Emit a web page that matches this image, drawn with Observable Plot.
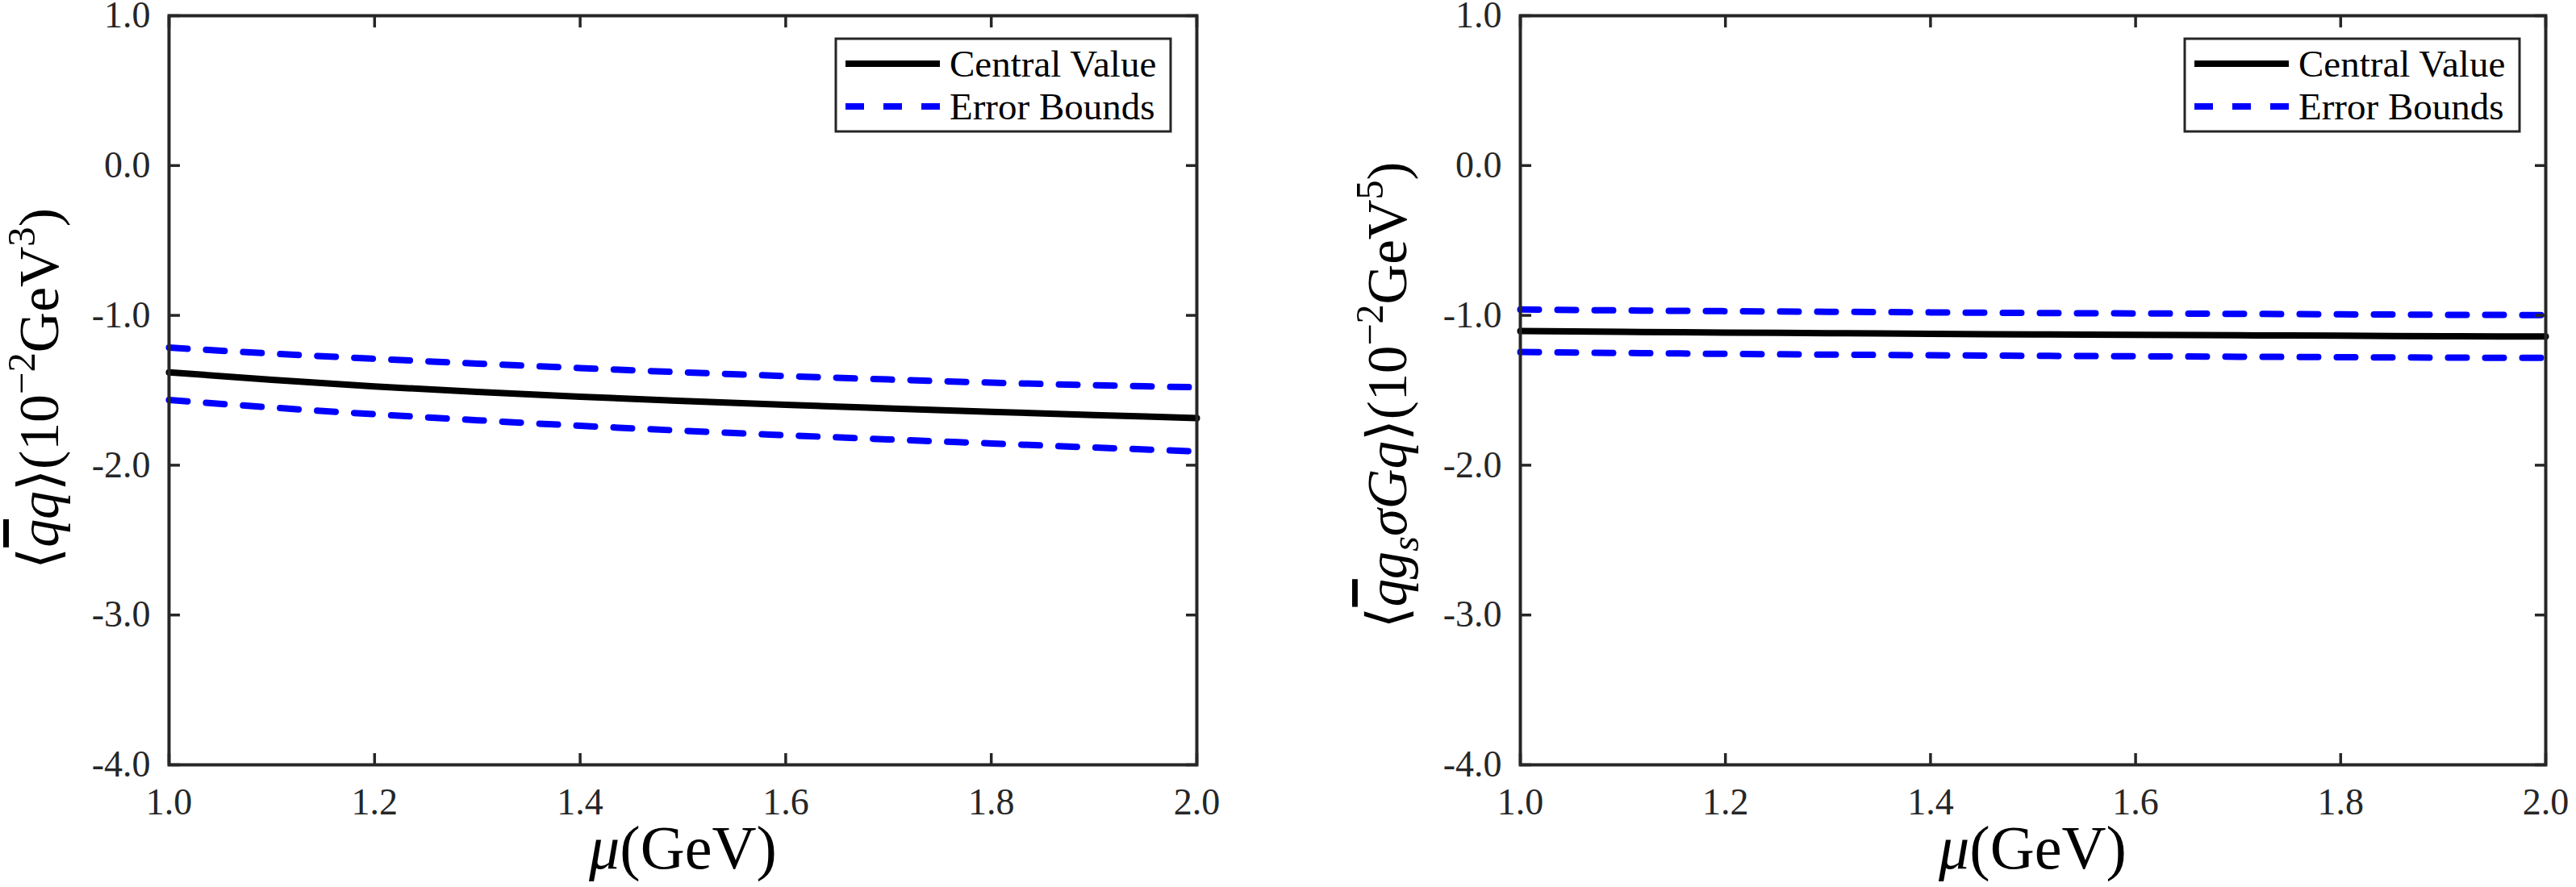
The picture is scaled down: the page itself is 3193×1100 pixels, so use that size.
<!DOCTYPE html>
<html><head><meta charset="utf-8">
<script src="https://cdn.jsdelivr.net/npm/d3@7"></script>
<script src="https://cdn.jsdelivr.net/npm/@observablehq/plot@0.6"></script>
<style>
html,body{margin:0;padding:0;background:#fff;}
#wrap{display:flex;width:3193px;height:1100px;}
#wrap svg{display:block;}
#wrap svg text, #wrap svg tspan{font-family:"Liberation Serif","DejaVu Serif",serif;}
</style></head><body><div id="wrap"></div>
<script>
// ---- data ----
const mu = [1.0, 1.1, 1.2, 1.3, 1.4, 1.5, 1.6, 1.7, 1.8, 1.9, 2.0];
const qqCentral = [-1.380, -1.430, -1.474, -1.511, -1.543, -1.571, -1.597, -1.621, -1.644, -1.665, -1.686];
const qqUpper   = [-1.215, -1.255, -1.290, -1.322, -1.352, -1.380, -1.405, -1.428, -1.449, -1.466, -1.480];
const qqLower   = [-1.565, -1.615, -1.660, -1.700, -1.737, -1.770, -1.800, -1.828, -1.855, -1.882, -1.908];
const mixCentral = [-1.105, -1.110, -1.115, -1.119, -1.123, -1.127, -1.130, -1.133, -1.136, -1.139, -1.141];
const mixUpper   = [-0.961, -0.967, -0.972, -0.976, -0.980, -0.984, -0.987, -0.990, -0.993, -0.996, -0.998];
const mixLower   = [-1.245, -1.251, -1.257, -1.262, -1.266, -1.270, -1.273, -1.276, -1.279, -1.282, -1.284];
const xTicks = [1.0, 1.2, 1.4, 1.6, 1.8, 2.0];
const yTicks = [1, 0, -1, -2, -3, -4];
const legendLabels = ["Central Value", "Error Bounds"];
const xLabelParts = [{t: "μ", i: true}, {t: "(GeV)"}];
const leftYLabelParts = [
  {t: "⟨"}, {t: "q", i: true, o: true}, {t: "q", i: true}, {t: "⟩"},
  {t: "(10"}, {t: "−2", sup: true}, {t: "GeV"}, {t: "3", sup: true}, {t: ")"}
];
const rightYLabelParts = [
  {t: "⟨"}, {t: "q", i: true, o: true}, {t: "g", i: true}, {t: "s", i: true, sub: true},
  {t: "σ", i: true}, {t: "G", i: true}, {t: "q", i: true}, {t: "⟩"},
  {t: "(10"}, {t: "−2", sup: true}, {t: "GeV"}, {t: "5", sup: true}, {t: ")"}
];

const FONT = "'Liberation Serif', 'DejaVu Serif', serif";
const INK = "#262626";
const fmt = d => d.toFixed(1);

function fillRichText(text, parts, size) {
  text.selectAll("tspan").remove();
  text.attr("font-size", size);
  let shift = 0;
  for (const p of parts) {
    const ts = text.append("tspan").text(p.t);
    let target = 0;
    if (p.sup) { target = -0.42 * size; ts.attr("font-size", size * 0.7); }
    if (p.sub) { target = 0.22 * size; ts.attr("font-size", size * 0.7); }
    if (target !== shift) { ts.attr("dy", target - shift); shift = target; }
    if (p.i) ts.attr("font-style", "italic");
    if (p.o) ts.style("text-decoration", "overline");
  }
}

// rich text fitted to a target length (label extents), centred on the anchor
function addFittedLabel(parent, parts, size, targetLen) {
  const text = parent.append("text").attr("text-anchor", "start").attr("fill", "#000").attr("x", 0);
  fillRichText(text, parts, size);
  let bb = text.node().getBBox();
  const s = size * targetLen / bb.width;
  fillRichText(text, parts, s);
  bb = text.node().getBBox();
  text.attr("x", -(bb.x + bb.width / 2));
  return text;
}

const panels = [];
function panel({width, marginLeft, marginRight, central, upper, lower}) {
  const marginTop = 19, marginBottom = 152, height = 1100;
  const rows = arr => mu.map((m, i) => ({mu: m, v: arr[i]}));
  const plot = Plot.plot({
    width, height, marginLeft, marginRight, marginTop, marginBottom,
    style: {fontFamily: FONT, fontSize: "46px", color: INK, background: "#fff", overflow: "visible"},
    x: {domain: [1, 2]},
    y: {domain: [-4, 1]},
    marks: [
      Plot.line(rows(upper), {x: "mu", y: "v", stroke: "#0000ff", strokeWidth: 8, strokeDasharray: "23,23", curve: "monotone-x"}),
      Plot.line(rows(lower), {x: "mu", y: "v", stroke: "#0000ff", strokeWidth: 8, strokeDasharray: "23,23", curve: "monotone-x"}),
      Plot.line(rows(central), {x: "mu", y: "v", stroke: "#000", strokeWidth: 8, curve: "monotone-x"}),
      Plot.axisX(xTicks, {anchor: "bottom", tickSize: -14, tickPadding: 43, tickFormat: fmt, label: null, fontSize: 46, strokeWidth: 3.5}),
      Plot.axisX(xTicks, {anchor: "top", tickSize: -14, tickFormat: () => "", label: null, strokeWidth: 3.5}),
      Plot.axisY(yTicks, {anchor: "left", tickSize: -14, tickPadding: 37, tickFormat: fmt, label: null, fontSize: 46, strokeWidth: 3.5}),
      Plot.axisY(yTicks, {anchor: "right", tickSize: -14, tickFormat: () => "", label: null, strokeWidth: 3.5}),
      Plot.frame({stroke: INK, strokeWidth: 4})
    ]
  });
  const svg = d3.select(plot);
  const frameRight = width - marginRight;

  // legend
  const bw = 415, bh = 115;
  const bx = frameRight - 32 - bw, by = 48;
  const lg = svg.append("g").attr("transform", `translate(${bx},${by})`);
  lg.append("rect").attr("width", bw).attr("height", bh).attr("fill", "#fff").attr("stroke", INK).attr("stroke-width", 3);
  const rowsY = [31, 84];
  lg.append("line").attr("x1", 12).attr("x2", 129).attr("y1", rowsY[0]).attr("y2", rowsY[0])
    .attr("stroke", "#000").attr("stroke-width", 8);
  lg.append("line").attr("x1", 12).attr("x2", 129).attr("y1", rowsY[1]).attr("y2", rowsY[1])
    .attr("stroke", "#0000ff").attr("stroke-width", 8).attr("stroke-dasharray", "23,24");
  legendLabels.forEach((s, i) => {
    lg.append("text").attr("x", 141).attr("y", rowsY[i] + 16)
      .attr("text-anchor", "start")
      .attr("font-size", 47).attr("fill", "#000").text(s);
  });
  return plot;
}

const wrap = document.getElementById("wrap");
const left = panel({width: 1596, marginLeft: 209, marginRight: 113, central: qqCentral, upper: qqUpper, lower: qqLower});
const right = panel({width: 1597, marginLeft: 288, marginRight: 38, central: mixCentral, upper: mixUpper, lower: mixLower});
wrap.appendChild(left);
wrap.appendChild(right);

// axis titles (added once the SVGs are in the document so their text can be measured)
const L = d3.select(left), R = d3.select(right);
addFittedLabel(L.append("g").attr("transform", "translate(846,1077)"), xLabelParts, 70, 234);
addFittedLabel(R.append("g").attr("transform", `translate(${2519 - 1596},1077)`), xLabelParts, 70, 234);
addFittedLabel(L.append("g").attr("transform", "translate(72,482) rotate(-90)"), leftYLabelParts, 66, 448);
addFittedLabel(R.append("g").attr("transform", `translate(${1743 - 1596},490) rotate(-90)`), rightYLabelParts, 68, 579);
</script>
</body></html>
